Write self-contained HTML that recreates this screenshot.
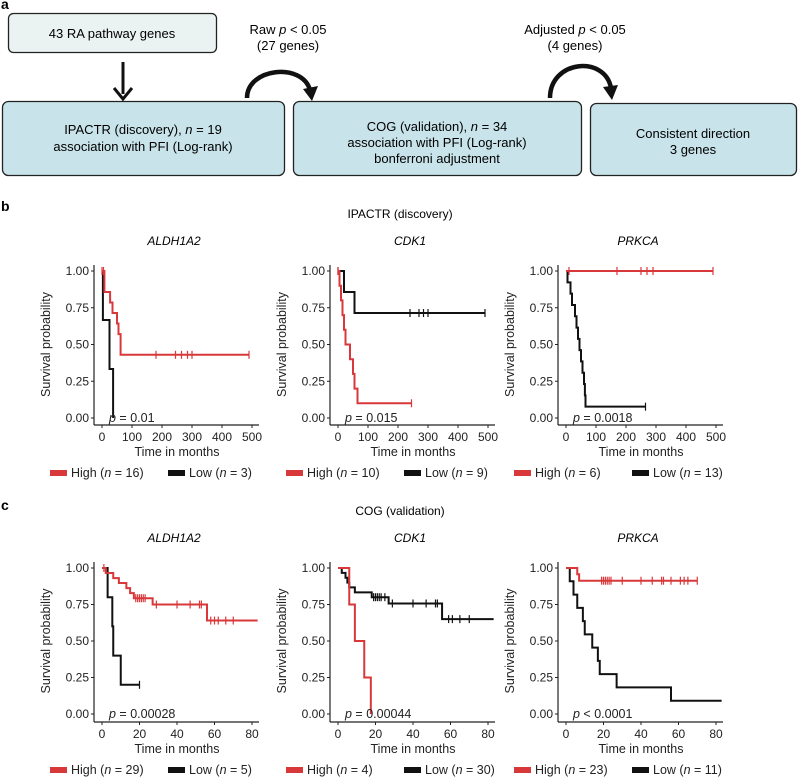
<!DOCTYPE html>
<html><head><meta charset="utf-8">
<style>
body{margin:0;background:#fff;}
svg{display:block;font-family:"Liberation Sans",Arial,sans-serif;}
</style></head>
<body>
<svg id="fig" width="798" height="784" viewBox="0 0 798 784">
<g>
<text x="1" y="9" font-size="14" font-weight="bold">a</text>
<rect x="8.5" y="13.5" width="208" height="39" rx="5" fill="#eaf3f2" stroke="#222" stroke-width="1.3"/>
<text x="112" y="38" font-size="13" text-anchor="middle">43 RA pathway genes</text>
<line x1="123" y1="62" x2="123" y2="94" stroke="#111" stroke-width="3"/>
<path d="M114,88 L123,99 L132,88" fill="none" stroke="#111" stroke-width="3"/>
<rect x="2.5" y="101.5" width="282" height="74" rx="6" fill="#c8e4ea" stroke="#222" stroke-width="1.3"/>
<text x="143" y="134" font-size="13" text-anchor="middle">IPACTR (discovery), <tspan font-style="italic">n</tspan> = 19</text>
<text x="143" y="151" font-size="13" text-anchor="middle">association with PFI (Log-rank)</text>
<rect x="293.5" y="101.5" width="288" height="74" rx="6" fill="#c8e4ea" stroke="#222" stroke-width="1.3"/>
<text x="437" y="131" font-size="13" text-anchor="middle">COG (validation), <tspan font-style="italic">n</tspan> = 34</text>
<text x="437" y="147" font-size="13" text-anchor="middle">association with PFI (Log-rank)</text>
<text x="437" y="163" font-size="13" text-anchor="middle">bonferroni adjustment</text>
<rect x="590.5" y="103.5" width="206" height="72" rx="6" fill="#c8e4ea" stroke="#222" stroke-width="1.3"/>
<text x="693" y="138" font-size="13" text-anchor="middle">Consistent direction</text>
<text x="693" y="154" font-size="13" text-anchor="middle">3 genes</text>
<path d="M247,98 C247,68 302,62 310,90" fill="none" stroke="#111" stroke-width="4.5"/>
<path d="M303,89 L312,101 L318,86 z" fill="#111"/>
<text x="288" y="34" font-size="13" text-anchor="middle">Raw <tspan font-style="italic">p</tspan> &lt; 0.05</text>
<text x="288" y="50" font-size="13" text-anchor="middle">(27 genes)</text>
<path d="M550,98 C550,60 605,55 611,88" fill="none" stroke="#111" stroke-width="4.5"/>
<path d="M603,87 L612,100 L618,85 z" fill="#111"/>
<text x="575" y="34" font-size="13" text-anchor="middle">Adjusted <tspan font-style="italic">p</tspan> &lt; 0.05</text>
<text x="575" y="50" font-size="13" text-anchor="middle">(4 genes)</text>
</g>
<text x="1" y="211" font-size="14" font-weight="bold">b</text>
<text x="400" y="218" font-size="12" text-anchor="middle">IPACTR (discovery)</text>
<text x="1" y="510" font-size="14" font-weight="bold">c</text>
<text x="400" y="515" font-size="12" text-anchor="middle">COG (validation)</text>
<g id="charts"></g>
</svg>
<script>
// Panel b (IPACTR) data
const bGenes = ["ALDH1A2","CDK1","PRKCA"];
const bTicks = [0,100,200,300,400,500];
const bPvals = ["p = 0.01","p = 0.015","p = 0.0018"];
const bHighN = [16,10,6];
const bLowN = [3,9,13];
const b1HighT = [8,27,35,50,55,62];
const b1HighS = [0.857,0.786,0.714,0.643,0.571,0.43];
const b1HighEnd = 490;
const b1HighC = [0,5,180,245,265,285,300,490];
const b1LowT = [3,25,37];
const b1LowS = [0.667,0.333,0];
const b1LowEnd = 37;
const b1LowC = [];
const b2HighT = [5,10,15,20,25,40,50,55,65];
const b2HighS = [0.9,0.8,0.7,0.6,0.5,0.4,0.3,0.2,0.1];
const b2HighEnd = 245;
const b2HighC = [0,245];
const b2LowT = [20,55];
const b2LowS = [0.857,0.714];
const b2LowEnd = 490;
const b2LowC = [0,240,270,285,300,490];
const b3HighT = [];
const b3HighS = [];
const b3HighEnd = 490;
const b3HighC = [10,170,250,270,290,490];
const b3LowT = [5,15,20,30,35,40,45,50,55,60,63,65];
const b3LowS = [0.923,0.846,0.769,0.692,0.615,0.538,0.462,0.385,0.308,0.231,0.154,0.077];
const b3LowEnd = 265;
const b3LowC = [265];
// Panel c (COG) data
const cGenes = ["ALDH1A2","CDK1","PRKCA"];
const cTicks = [0,20,40,60,80];
const cPvals = ["p = 0.00028","p = 0.00044","p < 0.0001"];
const cHighN = [29,4,23];
const cLowN = [5,30,11];
const c1HighT = [2,6,9,13,15,17,27,56];
const c1HighS = [0.966,0.931,0.897,0.862,0.828,0.793,0.75,0.64];
const c1HighEnd = 83;
const c1HighC = [1,18,19,20,21,22,23,29,40,47,52,53,58,60,62,66,70];
const c1LowT = [3,5.5,6,10];
const c1LowS = [0.8,0.6,0.4,0.2];
const c1LowEnd = 20;
const c1LowC = [20];
const c2HighT = [6,9,14,17.5];
const c2HighS = [0.75,0.5,0.25,0];
const c2HighEnd = 17.5;
const c2HighC = [];
const c2LowT = [2,4,5,6,9,18,27,55.5];
const c2LowS = [0.967,0.933,0.9,0.867,0.833,0.8,0.757,0.65];
const c2LowEnd = 83;
const c2LowC = [19,20,21,22,23,25,29,40,47,52,53,59,61,65,70];
const c3HighT = [6,7];
const c3HighS = [0.957,0.913];
const c3HighEnd = 70;
const c3HighC = [19,20,21,22,23,24,30,40,46,51,52,56,61,63,65,70];
const c3LowT = [2,4,6,9,10,14,17,18,27,56];
const c3LowS = [0.909,0.818,0.727,0.636,0.545,0.455,0.364,0.273,0.182,0.091];
const c3LowEnd = 83;
const c3LowC = [];

const NS="http://www.w3.org/2000/svg";
const root=document.getElementById('charts');
const RED="#d8383a";
function mk(tag,attrs,parent){const e=document.createElementNS(NS,tag);for(const k in attrs)e.setAttribute(k,attrs[k]);(parent||root).appendChild(e);return e;}
function survAt(T,S,t){let s=1;for(let i=0;i<T.length;i++){if(T[i]<=t)s=S[i];}return s;}
function curve(g,T,S,end,C,xs,ys,color,nm){
  let d="M"+xs(0)+","+ys(1);
  for(let i=0;i<T.length;i++){d+=" H"+xs(T[i])+" V"+ys(S[i]);}
  d+=" H"+xs(end);
  const p=mk('path',{d:d,fill:'none',stroke:color,'stroke-width':2},g);
  
  
  C.forEach(function(c){
    const y=ys(survAt(T,S,c));
    const m=mk('path',{d:"M"+xs(c)+","+(y-4)+" V"+(y+4),stroke:color,'stroke-width':1.2},g);
    
    
  });
}
function panel(o){
  const g=mk('g',{});
  
  
  const x0=o.ax+8, xmax=o.ticks[o.ticks.length-1];
  const xs=v=>x0+v/xmax*150;
  const ys=v=>o.y0-v*(o.y0-o.y1);
  const t=mk('text',{x:o.ax+80,y:o.y1-26,'font-size':12,'font-style':'italic','text-anchor':'middle'},g);t.textContent=o.gene;
  
  
  const ya=mk('line',{x1:o.ax,y1:o.y1-6,x2:o.ax,y2:o.axY,stroke:'#222','stroke-width':1.2},g);
  
  
  const xa=mk('line',{x1:o.ax,y1:o.axY,x2:x0+157,y2:o.axY,stroke:'#222','stroke-width':1.2},g);
  
  
  [0,0.25,0.5,0.75,1].forEach(function(v){
    mk('line',{x1:o.ax-3,y1:ys(v),x2:o.ax,y2:ys(v),stroke:'#222'},g);
    const l=mk('text',{x:o.ax-5,y:ys(v)+4,'font-size':12,'text-anchor':'end',fill:'#222'},g);l.textContent=v.toFixed(2);
    
    
  });
  o.ticks.forEach(function(v){
    mk('line',{x1:xs(v),y1:o.axY,x2:xs(v),y2:o.axY+3,stroke:'#222'},g);
    const l=mk('text',{x:xs(v),y:o.axY+16,'font-size':12,'text-anchor':'middle',fill:'#222'},g);l.textContent=v;
    
    
  });
  const xt=mk('text',{x:x0+75,y:o.axY+31,'font-size':12.5,'text-anchor':'middle',fill:'#222'},g);xt.textContent="Time in months";
  
  
  const yl=mk('text',{x:0,y:0,'font-size':12.5,'text-anchor':'middle',fill:'#222',transform:'translate('+(o.ax-44)+','+((o.y0+o.y1)/2)+') rotate(-90)'},g);yl.textContent="Survival probability";
  
  
  curve(g,o.lowT,o.lowS,o.lowEnd,o.lowC,xs,ys,'#111','low');
  curve(g,o.highT,o.highS,o.highEnd,o.highC,xs,ys,RED,'high');
  const pv=mk('text',{x:x0+7,y:o.y0+4,'font-size':12.5,fill:'#222'},g);
  const parts=o.p.split(' ');
  const ti=mk('tspan',{'font-style':'italic'},pv);ti.textContent='p';
  const tr=mk('tspan',{},pv);tr.textContent=' '+parts.slice(1).join(' ');
  
  
  const ly=o.axY+50;
  [[RED,'High',o.hn,o.ax-44],[ '#111','Low',o.ln,o.ax+74]].forEach(function(e){
    const sw=mk('rect',{x:e[3],y:ly-5,width:17,height:6,fill:e[0]},g);
    
    
    const lt=mk('text',{x:e[3]+21,y:ly+2,'font-size':12.5,fill:'#222'},g);
    
    
    const a=mk('tspan',{},lt);a.textContent=e[1]+' (';
    const b=mk('tspan',{'font-style':'italic'},lt);b.textContent='n';
    const c=mk('tspan',{},lt);c.textContent=' = '+e[2]+')';
  });
}
const axB=[94,330,558];
const bH=[[b1HighT,b1HighS,b1HighEnd,b1HighC],[b2HighT,b2HighS,b2HighEnd,b2HighC],[b3HighT,b3HighS,b3HighEnd,b3HighC]];
const bL=[[b1LowT,b1LowS,b1LowEnd,b1LowC],[b2LowT,b2LowS,b2LowEnd,b2LowC],[b3LowT,b3LowS,b3LowEnd,b3LowC]];
const cH=[[c1HighT,c1HighS,c1HighEnd,c1HighC],[c2HighT,c2HighS,c2HighEnd,c2HighC],[c3HighT,c3HighS,c3HighEnd,c3HighC]];
const cL=[[c1LowT,c1LowS,c1LowEnd,c1LowC],[c2LowT,c2LowS,c2LowEnd,c2LowC],[c3LowT,c3LowS,c3LowEnd,c3LowC]];
for(let i=0;i<3;i++){
  panel({name:'discovery-km-'+bGenes[i].toLowerCase(),gene:bGenes[i],ticks:bTicks,ax:axB[i],y1:271,y0:418,axY:425,p:bPvals[i],hn:bHighN[i],ln:bLowN[i],
    highT:bH[i][0],highS:bH[i][1],highEnd:bH[i][2],highC:bH[i][3],lowT:bL[i][0],lowS:bL[i][1],lowEnd:bL[i][2],lowC:bL[i][3]});
  panel({name:'validation-km-'+cGenes[i].toLowerCase(),gene:cGenes[i],ticks:cTicks,ax:axB[i],y1:568,y0:714,axY:722,p:cPvals[i],hn:cHighN[i],ln:cLowN[i],
    highT:cH[i][0],highS:cH[i][1],highEnd:cH[i][2],highC:cH[i][3],lowT:cL[i][0],lowS:cL[i][1],lowEnd:cL[i][2],lowC:cL[i][3]});
}
</script>
</body></html>
